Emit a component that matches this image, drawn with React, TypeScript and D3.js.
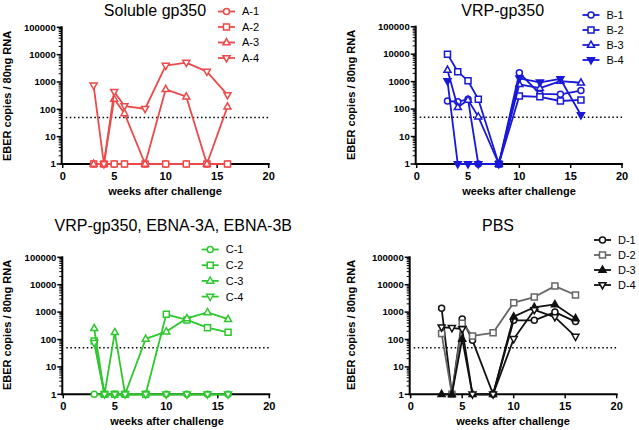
import React from "react";
import * as d3 from "d3";

const WEEKS = [3, 4, 5, 6, 8, 10, 12, 14, 16];

const A_NAMES = ["A-1", "A-2", "A-3", "A-4"];
const A1 = [1, 1, 1, 1, 1, 1, 1, 1, 1];
const A2 = [1, 1, 1, 1, 1, 1, 1, 1, 1];
const A3 = [1, 1, 240, 71, 1, 540, 290, 1, 125];
const A4 = [750, 1, 440, 132, 105, 3950, 5100, 2400, 335];

const B_NAMES = ["B-1", "B-2", "B-3", "B-4"];
const B1 = [196, 185, 227, 1, 1, 2100, 355, 345, 470];
const B2 = [10000, 2300, 1070, 227, 1, 300, 280, 197, 215];
const B3 = [2650, 116, 215, 53, 1, 800, 580, 1050, 910];
const B4 = [1050, 1, 1, 1, 1, 1320, 940, 1250, 61];

const C_NAMES = ["C-1", "C-2", "C-3", "C-4"];
const C1 = [1, 1, 1, 1, 1, 1, 1, 1, 1];
const C2 = [88, 1, 1, 1, 1, 830, 520, 270, 183];
const C3 = [257, 1, 183, 1, 105, 194, 590, 980, 550];
const C4 = [75, 1, 1, 1, 1, 1, 1, 1, 1];

const D_NAMES = ["D-1", "D-2", "D-3", "D-4"];
const D1 = [1380, 1, 560, 93, 1, 500, 500, 1000, 450];
const D2 = [164, 1, 390, 135, 175, 2200, 3550, 8900, 4200];
const D3 = [1, 1, 105, 1, 1, 680, 1500, 1900, 590];
const D4 = [280, 265, 240, 1, 1, 105, 1200, 660, 127];

const TITLES = ["Soluble gp350", "VRP-gp350", "VRP-gp350, EBNA-3A, EBNA-3B", "PBS"];
const THRESHOLD = 50;
const X_TICKS = [0, 5, 10, 15, 20];
const Y_MAJOR = [1, 10, 100, 1000, 10000, 100000];
const Y_LABEL = "EBER copies / 80ng RNA";
const X_LABEL = "weeks after challenge";
const SHAPES = ["circle", "square", "up", "down"];

const FONT = "'Liberation Sans', Arial, sans-serif";

type Panel = {
  title: string;
  names: string[];
  series: number[][];
  colors: string[];
  fills: string[];
  x0: number; x1: number; yTop: number; yBot: number;
  titleX: number; titleY: number;
  legX: number; legY: number; legDy: number;
  yLabX: number; yLabY: number;
  xLabX: number; xLabY: number;
};

const RED = "#ec4a4a";
const BLUE = "#1818d8";
const GREEN = "#2ec82e";

const panels: Panel[] = [
  {
    title: TITLES[0], names: A_NAMES, series: [A1, A2, A3, A4],
    colors: [RED, RED, RED, RED], fills: ["#fff", "#fff", "#fff", "#fff"],
    x0: 62.7, x1: 268.7, yTop: 27.3, yBot: 164,
    titleX: 155, titleY: 15.5,
    legX: 218, legY: 11.5, legDy: 15.5,
    yLabX: 7.5, yLabY: 96, xLabX: 165, xLabY: 194.5,
  },
  {
    title: TITLES[1], names: B_NAMES, series: [B1, B2, B3, B4],
    colors: [BLUE, BLUE, BLUE, BLUE], fills: ["#fff", "#fff", "#fff", BLUE],
    x0: 416.7, x1: 622, yTop: 26.7, yBot: 164,
    titleX: 502.7, titleY: 15.5,
    legX: 582.5, legY: 15, legDy: 15,
    yLabX: 351, yLabY: 95, xLabX: 519, xLabY: 194.5,
  },
  {
    title: TITLES[2], names: C_NAMES, series: [C1, C2, C3, C4],
    colors: [GREEN, GREEN, GREEN, GREEN], fills: ["#fff", "#fff", "#fff", "#fff"],
    x0: 63.3, x1: 269.3, yTop: 257.3, yBot: 394.3,
    titleX: 173.3, titleY: 230.5,
    legX: 201.7, legY: 249.5, legDy: 15.7,
    yLabX: 7.5, yLabY: 325, xLabX: 167, xLabY: 425,
  },
  {
    title: TITLES[3], names: D_NAMES, series: [D1, D2, D3, D4],
    colors: ["#111", "#666", "#111", "#111"], fills: ["#fff", "#fff", "#111", "#fff"],
    x0: 410.7, x1: 616.7, yTop: 257.3, yBot: 394.3,
    titleX: 498, titleY: 231,
    legX: 594, legY: 240, legDy: 15,
    yLabX: 351, yLabY: 325, xLabX: 513, xLabY: 425,
  },
];

function markerPath(shape: string): string {
  if (shape === "square") return "M-3,-3H3V3H-3Z";
  if (shape === "up") return "M0,-3.9L3.5,2.3L-3.5,2.3Z";
  if (shape === "down") return "M0,3.9L3.5,-2.3L-3.5,-2.3Z";
  return "M3,0A3,3 0 1,1 -3,0A3,3 0 1,1 3,0Z";
}

function PanelView({ p }: { p: Panel }) {
  const x = d3.scaleLinear().domain([0, 20]).range([p.x0, p.x1]);
  const y = d3.scaleLog().domain([1, 100000]).range([p.yBot, p.yTop]);
  const line = d3.line<number>().x((_, i) => x(WEEKS[i])).y((v) => y(v));
  const minor: number[] = [];
  for (let k = 0; k < 5; k++) for (let m = 2; m <= 9; m++) minor.push(m * Math.pow(10, k));
  const ax = x(0) - 1;
  return (
    <g>
      <text x={p.titleX} y={p.titleY} textAnchor="middle" fontSize={16} fontFamily={FONT} fill="#000">{p.title}</text>
      {/* threshold */}
      <line x1={ax + 4} x2={x(20)} y1={y(THRESHOLD)} y2={y(THRESHOLD)} stroke="#000" strokeWidth={1.5} strokeDasharray="1.5,2.6" />
      {/* y axis */}
      <line x1={ax} x2={ax} y1={y(100000) - 1} y2={y(1) + 1} stroke="#000" strokeWidth={2} />
      {Y_MAJOR.map((v) => (
        <g key={"M" + v}>
          <line x1={ax - 5} x2={ax} y1={y(v)} y2={y(v)} stroke="#000" strokeWidth={1.5} />
          <text x={ax - 6} y={y(v)} dy="0.35em" textAnchor="end" fontSize={9.5} fontWeight="bold" fontFamily={FONT}>{String(v)}</text>
        </g>
      ))}
      {minor.map((v) => (
        <line key={"m" + v} x1={ax - 3} x2={ax} y1={y(v)} y2={y(v)} stroke="#000" strokeWidth={1} />
      ))}
      {/* x axis */}
      <line x1={ax - 1} x2={x(20) + 1} y1={y(1)} y2={y(1)} stroke="#000" strokeWidth={2} />
      {X_TICKS.map((t) => (
        <g key={"x" + t}>
          <line x1={x(t)} x2={x(t)} y1={y(1)} y2={y(1) + 4} stroke="#000" strokeWidth={1.5} />
          <text x={x(t)} y={y(1) + 16} textAnchor="middle" fontSize={11} fontWeight="bold" fontFamily={FONT}>{String(t)}</text>
        </g>
      ))}
      <text x={p.xLabX} y={p.xLabY} textAnchor="middle" fontSize={11} fontWeight="bold" fontFamily={FONT}>{X_LABEL}</text>
      <text transform={`translate(${p.yLabX},${p.yLabY}) rotate(-90)`} dy="0.35em" textAnchor="middle" fontSize={11} fontWeight="bold" fontFamily={FONT}>{Y_LABEL}</text>
      {/* series */}
      {p.series.map((s, si) => (
        <g key={"s" + si}>
          <path d={line(s) || ""} fill="none" stroke={p.colors[si]} strokeWidth={1.8} strokeLinejoin="round" />
          {s.map((v, i) => (
            <path key={i} d={markerPath(SHAPES[si])} transform={`translate(${x(WEEKS[i])},${y(v)})`} fill={p.fills[si]} stroke={p.colors[si]} strokeWidth={1.5} />
          ))}
        </g>
      ))}
      {/* legend */}
      {p.names.map((n, i) => {
        const ly = p.legY + i * p.legDy;
        return (
          <g key={"l" + n}>
            <line x1={p.legX} x2={p.legX + 17} y1={ly} y2={ly} stroke={p.colors[i]} strokeWidth={1.8} />
            <path d={markerPath(SHAPES[i])} transform={`translate(${p.legX + 8.5},${ly})`} fill={p.fills[i]} stroke={p.colors[i]} strokeWidth={1.5} />
            <text x={p.legX + 24} y={ly} dy="0.36em" fontSize={11} fontFamily={FONT} fill="#000">{n}</text>
          </g>
        );
      })}
    </g>
  );
}

export default function App() {
  return (
    <svg width={639} height={430} style={{ position: "absolute", left: 0, top: 0, background: "#fff" }}>
      <rect width={639} height={430} fill="#fff" />
      {panels.map((p, i) => <PanelView key={i} p={p} />)}
    </svg>
  );
}
